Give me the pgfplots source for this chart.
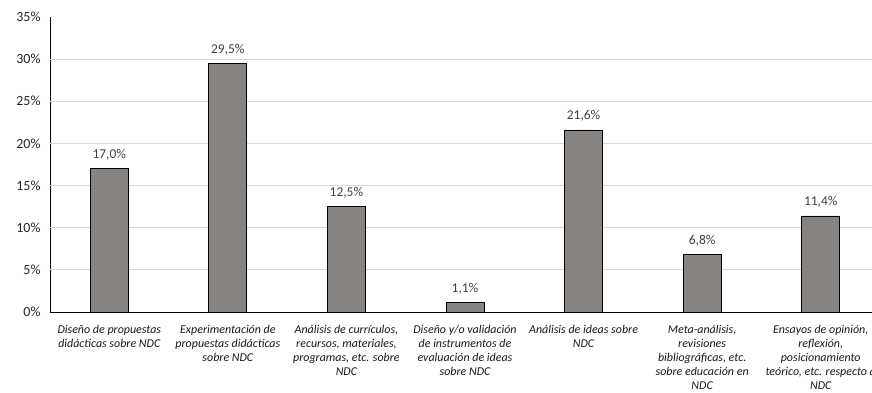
\documentclass[border=0pt]{standalone}
\usepackage{pgfplots}
\pgfplotsset{compat=1.18}
\usepackage{fontspec}
\setmainfont{Carlito}
\definecolor{barfill}{HTML}{878380}
\definecolor{gridc}{HTML}{D9D9D9}
\definecolor{lblc}{HTML}{404040}
\begin{document}
\begin{tikzpicture}
\clip (-50bp,-81bp) rectangle (822bp,312bp);
\begin{axis}[
  scale only axis,
  width=830bp, height=295bp,
  at={(0,0)}, anchor=south west,
  xmin=-0.5, xmax=6.5,
  ymin=0, ymax=35,
  axis x line*=bottom, axis y line*=left,
  axis line style={black, line width=0.8pt},
  /pgf/number format/assume math mode=true,
  ytick={0,5,...,35},
  yticklabel={\pgfmathprintnumber{\tick}\%},
  y tick label style={font=\fontsize{14}{16}\selectfont, color=black!85, xshift=-6bp},
  ytick style={draw=none},
  extra y ticks={5,10,...,30},
  extra y tick labels={},
  extra y tick style={grid=major, major grid style={gridc, line width=0.8pt}, tick style={draw=none}},
  xtick={0,...,6},
  xticklabels={
    {Diseño de propuestas\\didácticas sobre NDC},
    {Experimentación de\\propuestas didácticas\\sobre NDC},
    {Análisis de currículos,\\recursos, materiales,\\programas, etc. sobre\\NDC},
    {Diseño y/o validación\\de instrumentos de\\evaluación de ideas\\sobre NDC},
    {Análisis de ideas sobre\\NDC},
    {Meta-análisis,\\revisiones\\bibliográficas, etc.\\sobre educación en\\NDC},
    {Ensayos de opinión,\\reflexión,\\posicionamiento\\teórico, etc. respecto a\\NDC}},
  x tick label style={font=\fontsize{12}{14}\selectfont\itshape, align=center, anchor=north, inner sep=0pt, yshift=-9bp, color=black!90},
  xtick style={draw=none},
  extra x ticks={-0.5,0.5,...,6.5},
  extra x tick labels={},
  extra x tick style={tick align=outside, major tick length=4bp, tick style={black, line width=0.8pt}},
  ybar, bar width=0.32,
  nodes near coords={\pgfmathprintnumber[fixed,fixed zerofill,precision=1,use comma]{\pgfplotspointmeta}\%},
  nodes near coords style={font=\fontsize{13.5}{15}\selectfont, color=lblc, anchor=base, inner sep=0pt, yshift=10bp},
]
\addplot[fill=barfill, draw=black, line width=0.8pt] coordinates {
  (0,17.0) (1,29.5) (2,12.5) (3,1.1) (4,21.6) (5,6.8) (6,11.4)
};
\end{axis}
\end{tikzpicture}
\end{document}
